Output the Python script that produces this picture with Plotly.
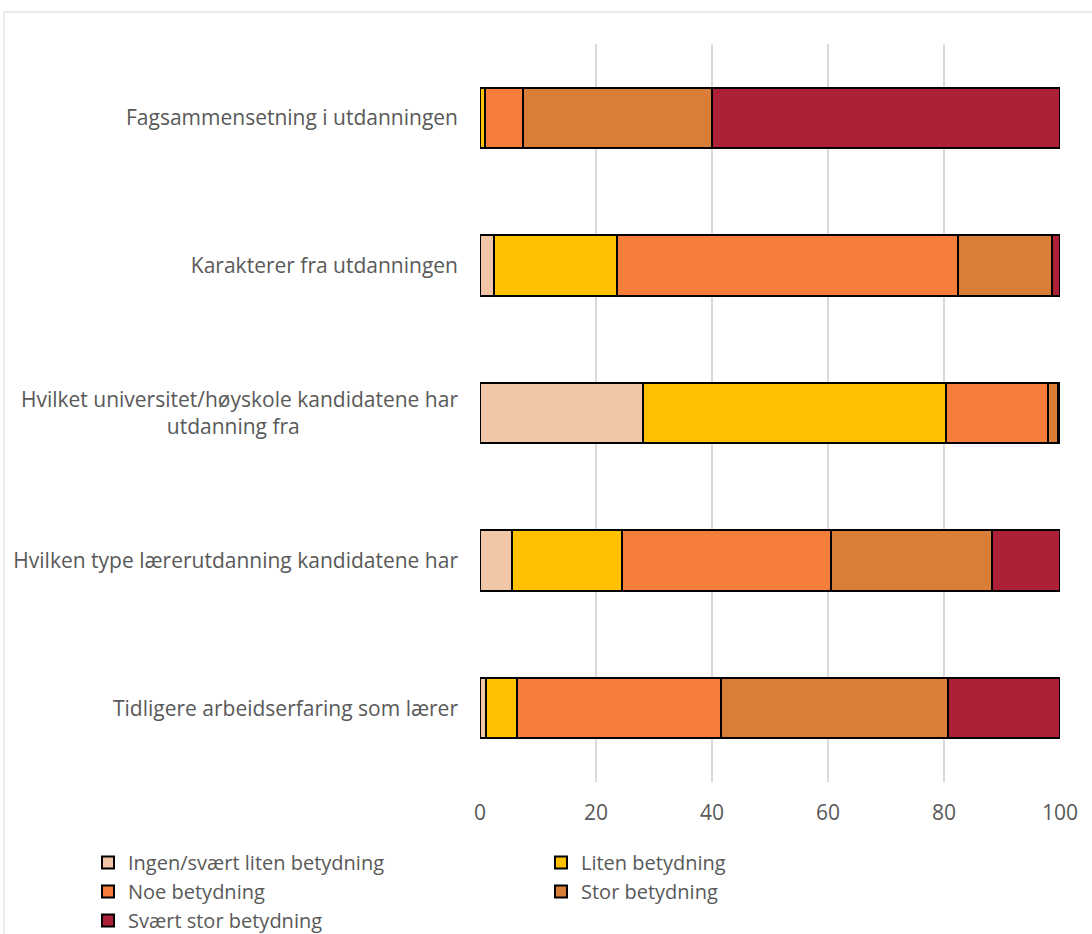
import plotly.graph_objects as go

categories = [
    "Fagsammensetning i utdanningen",
    "Karakterer fra utdanningen",
    "Hvilket universitet/høyskole kandidatene har<br>utdanning fra" + "\u00a0" * 29,
    "Hvilken type lærerutdanning kandidatene har",
    "Tidligere arbeidserfaring som lærer",
]
series_names = [
    "Ingen/svært liten betydning",
    "Liten betydning",
    "Noe betydning",
    "Stor betydning",
    "Svært stor betydning",
]
ingen = [0.0, 2.4, 28.1, 5.5, 1.0]
liten = [0.8, 21.3, 52.2, 19.0, 5.3]
noe = [6.6, 58.7, 17.7, 36.0, 35.2]
stor = [32.6, 16.3, 1.7, 27.8, 39.2]
svaert = [60.0, 1.3, 0.3, 11.7, 19.3]
x_ticks = [0, 20, 40, 60, 80, 100]

colors = ["#F0C6A6", "#FFC000", "#F67E3A", "#D97D37", "#AE2038"]
values = [ingen, liten, noe, stor, svaert]

W, H = 1092, 934
L, R, T, B = 480, 32, 44, 152
pw, ph = W - L - R, H - T - B

fig = go.Figure()
for name, vals, col in zip(series_names, values, colors):
    fig.add_trace(go.Bar(
        y=categories, x=vals, name=name, orientation="h",
        marker=dict(color=col, line=dict(color="black", width=2)),
    ))

font = "Open Sans, sans-serif"
fig.update_layout(
    width=W, height=H,
    margin=dict(l=L, r=R, t=T, b=B, autoexpand=False),
    barmode="stack", bargap=0.59,
    plot_bgcolor="white", paper_bgcolor="white",
    font=dict(family=font, size=20, color="#595959"),
    xaxis=dict(range=[0, 100], tickvals=x_ticks, showgrid=True,
               gridcolor="#d9d9d9", gridwidth=1.5, zeroline=False,
               showline=False, ticks="", tickfont=dict(size=21),
               ticklabelstandoff=16),
    yaxis=dict(categoryorder="array", categoryarray=categories,
               autorange="reversed", showgrid=False, ticks="",
               tickfont=dict(size=21), ticklabelstandoff=21),
    legend=dict(orientation="h", x=(88 - L) / pw, xanchor="left",
                y=-(843 - (T + ph)) / ph, yanchor="top",
                entrywidth=408, entrywidthmode="pixels",
                font=dict(size=20, color="#595959"), itemwidth=30,
                tracegroupgap=0, traceorder="normal"),
    showlegend=True,
    shapes=[dict(type="rect", xref="paper", yref="paper",
                 x0=(4 - L) / pw, x1=(W + 10 - L) / pw,
                 y0=(T + ph - 12) / ph, y1=(T + ph - H - 10) / ph,
                 line=dict(color="#d9d9d9", width=1), layer="below")],
)
fig.write_html("out.html")
